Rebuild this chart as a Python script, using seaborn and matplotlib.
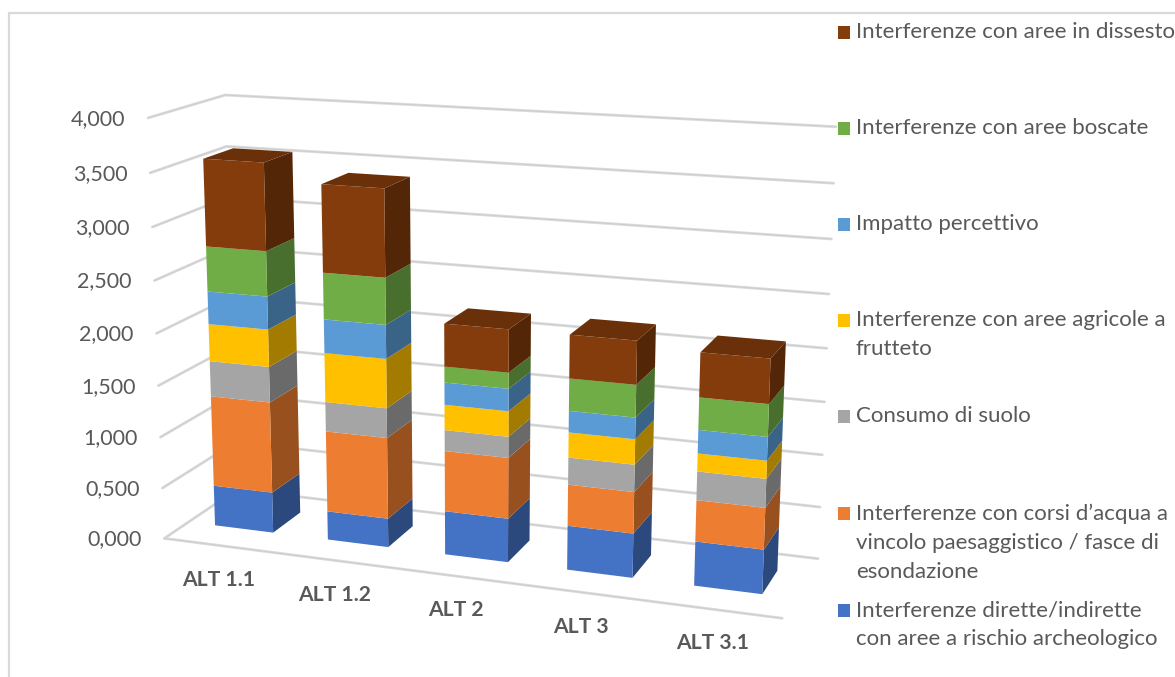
import numpy as np
import matplotlib
matplotlib.use("Agg")
import matplotlib.pyplot as plt
from matplotlib.patches import Polygon, Rectangle
import seaborn as sns

categories = ["ALT 1.1", "ALT 1.2", "ALT 2", "ALT 3", "ALT 3.1"]
rischio_archeologico = [0.40, 0.28, 0.42, 0.42, 0.415]
corsi_acqua = [0.89, 0.785, 0.58, 0.39, 0.385]
consumo_suolo = [0.345, 0.285, 0.20, 0.255, 0.265]
aree_agricole = [0.36, 0.47, 0.24, 0.235, 0.165]
impatto_percettivo = [0.315, 0.32, 0.21, 0.20, 0.215]
aree_boscate = [0.43, 0.44, 0.15, 0.30, 0.295]
aree_dissesto = [0.825, 0.82, 0.40, 0.40, 0.405]
y_ticks = [0, 0.5, 1, 1.5, 2, 2.5, 3, 3.5, 4]
y_tick_labels = ["0,000", "0,500", "1,000", "1,500", "2,000", "2,500", "3,000", "3,500", "4,000"]

series = [rischio_archeologico, corsi_acqua, consumo_suolo, aree_agricole,
          impatto_percettivo, aree_boscate, aree_dissesto]
legend_labels = [
    "Interferenze dirette/indirette\ncon aree a rischio archeologico",
    "Interferenze con corsi d’acqua a\nvincolo paesaggistico / fasce di\nesondazione",
    "Consumo di suolo",
    "Interferenze con aree agricole a\nfrutteto",
    "Impatto percettivo",
    "Interferenze con aree boscate",
    "Interferenze con aree in dissesto",
]
legend_y = [610, 513, 416, 320, 224, 128, 32]

sns.set_theme(style="white")
plt.rcParams["font.family"] = ["Lato", "DejaVu Sans"]
palette = sns.color_palette(["#4472C4", "#ED7D31", "#A5A5A5", "#FFC000",
                             "#5B9BD5", "#70AD47", "#843C0C"])
GRID = "#DADADA"
GRID_CORE = "#CCCCCC"
TEXT = "#595959"

W, H = 1175, 677
fig = plt.figure(figsize=(W / 100, H / 100), dpi=100, facecolor="white")
ax = fig.add_axes([0, 0, 1, 1])
ax.set_xlim(0, W)
ax.set_ylim(H, 0)
ax.axis("off")

# Camera for the 3-D box: (category 0-1, value, depth 0-1) -> canvas position,
# calibrated on the box corners.
anchors = [
    ((0, 0, 0), (165, 538)), ((1, 0, 0), (782, 619)),
    ((0, 0, 1), (236, 490)), ((1, 0, 1), (818, 558)),
    ((0, 4, 0), (147, 118)), ((0, 4, 1), (226, 95)),
    ((1, 4, 1), (836, 127)), ((0, 2, 0), (157, 333)),
    ((1, 2, 1), (827, 348)),
]
rows, rhs = [], []
for (a, b, c), (px, py) in anchors:
    rows.append([a, b, c, 1, 0, 0, 0, 0, -px * a, -px * b, -px * c])
    rhs.append(px)
    rows.append([0, 0, 0, 0, a, b, c, 1, -py * a, -py * b, -py * c])
    rhs.append(py)
cam = np.append(np.linalg.lstsq(np.array(rows, float), np.array(rhs, float), rcond=None)[0], 1).reshape(3, 4)


def project(u, v, w):
    x, y, z = cam @ np.array([u, v, w, 1.0])
    return x / z, y / z


def shade(color, factor):
    return tuple(channel * factor for channel in color)


def box_line(points):
    ax.plot(*zip(*points), color=GRID, lw=2.0, zorder=2)
    ax.plot(*zip(*points), color=GRID_CORE, lw=0.6, zorder=2)


# Frame of the chart area
ax.plot([9, 9, W], [H, 13, 13], color="#D9D9D9", lw=1.6, solid_joinstyle="miter", zorder=1)

# Gridlines on the side wall and back wall, and the front edge of the floor
for value in y_ticks:
    box_line([project(0, value, 0), project(0, value, 1), project(1, value, 1)])
box_line([project(0, 0, 0), project(1, 0, 0)])

# Tick labels follow the front vertical edge of the box
for value, label in zip(y_ticks, y_tick_labels):
    x, y = project(0, value, 0)
    ax.text(x - 23, y + 1, label, ha="right", va="center", fontsize=15.5, color=TEXT, zorder=5)

# Stacked 3-D columns
n = len(categories)
gap, near, far = 0.24, 0.32, 0.72
order = 10
for i, name in enumerate(categories):
    u0, u1 = (i + gap) / n, (i + 1 - gap) / n
    base = 0.0
    for values, color in zip(series, palette):
        top = base + values[i]
        side = [project(u1, base, near), project(u1, base, far),
                project(u1, top, far), project(u1, top, near)]
        front = [project(u0, base, near), project(u1, base, near),
                 project(u1, top, near), project(u0, top, near)]
        ax.add_patch(Polygon(side, closed=True, fc=shade(color, 0.64), ec="none", zorder=order))
        ax.add_patch(Polygon(front, closed=True, fc=color, ec="none", zorder=order + 1))
        base = top
    lid = [project(u0, base, near), project(u1, base, near),
           project(u1, base, far), project(u0, base, far)]
    ax.add_patch(Polygon(lid, closed=True, fc=shade(palette[-1], 0.8), ec="none", zorder=order + 1))
    x, y = project((u0 + u1) / 2, 0, 0)
    ax.text(x - 2, y + 34, name, ha="center", va="center", fontsize=15.2,
            fontweight="bold", color=TEXT, zorder=5)

# Legend column
for label, color, y in zip(legend_labels, palette, legend_y):
    ax.add_patch(Rectangle((838, y - 6.5), 12, 13, fc=color, ec="none", zorder=6))
    ax.text(856, y - 9.5, label, ha="left", va="top", fontsize=16, color=TEXT,
            linespacing=1.56, zorder=6)

fig.savefig("out.png", dpi=100, facecolor="white")
